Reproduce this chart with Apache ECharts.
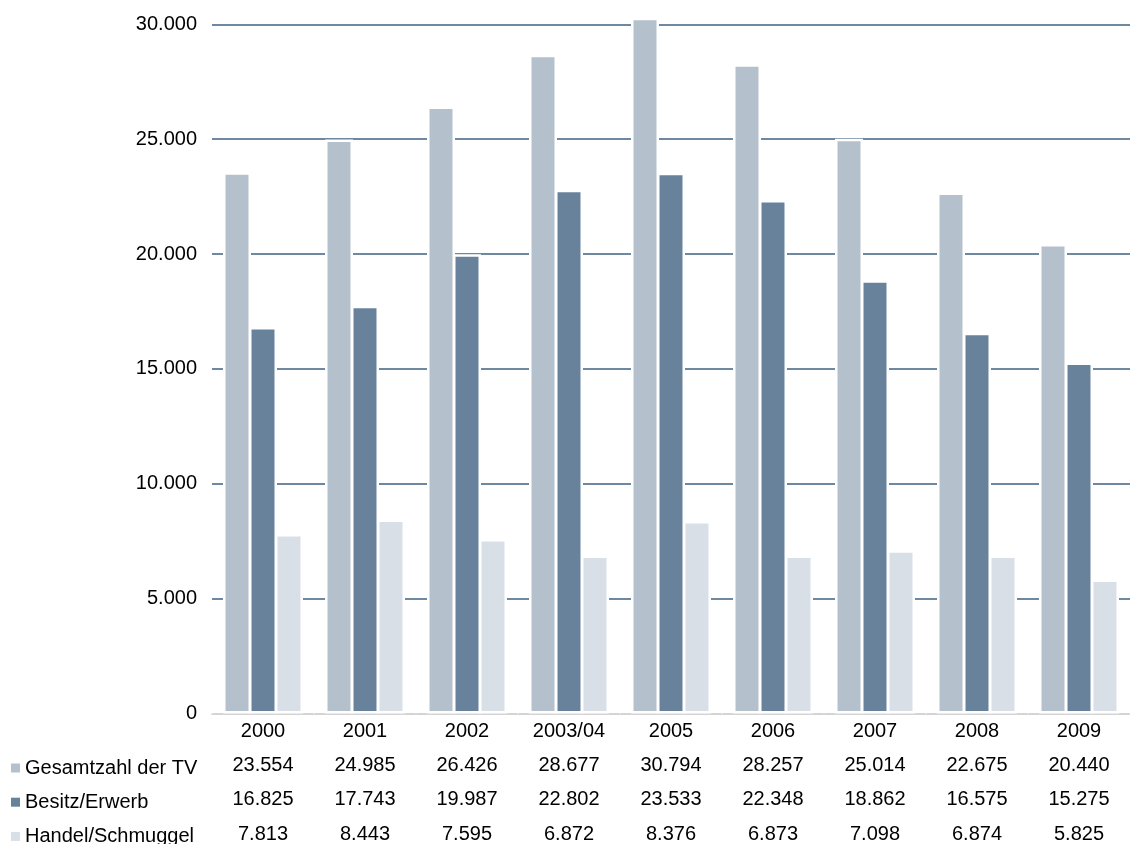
<!DOCTYPE html>
<html>
<head>
<meta charset="utf-8">
<script src="https://cdn.jsdelivr.net/npm/echarts@6/dist/echarts.min.js"></script>
<style>
html,body{margin:0;padding:0;background:#fff;}
#chart{width:1130px;height:844px;}
</style>
</head>
<body>
<div id="chart"></div>
<script>
const years = ['2000', '2001', '2002', '2003/04', '2005', '2006', '2007', '2008', '2009'];
const seriesNames = ['Gesamtzahl der TV', 'Besitz/Erwerb', 'Handel/Schmuggel'];
const gesamt = [23554, 24985, 26426, 28677, 30794, 28257, 25014, 22675, 20440];
const besitz = [16825, 17743, 19987, 22802, 23533, 22348, 18862, 16575, 15275];
const handel = [7813, 8443, 7595, 6872, 8376, 6873, 7098, 6874, 5825];
const yTickStep = 5000;
const yTickMax = 30000;

const colors = ['#b4c0cc', '#68829c', '#d9dfe6'];
const gridColor = '#6f88a1';
const font = "'Liberation Sans', Arial, sans-serif";
const fs = 20;

function fmt(n) {
  return String(n).replace(/\B(?=(\d{3})+(?!\d))/g, '.');
}

const rows = [gesamt, besitz, handel];
const rowPitch = 34.2;

const chart = echarts.init(document.getElementById('chart'), null, {renderer: 'canvas'});

const xAxes = [{
  type: 'category',
  data: years,
  position: 'bottom',
  axisLine: {show: true, lineStyle: {color: '#d4d4d4', width: 2}},
  axisTick: {show: true, inside: true, length: 2, lineStyle: {color: '#ffffff', width: 1.5}},
  axisLabel: {interval: 0, color: '#000', fontFamily: font, fontSize: fs, lineHeight: 20, margin: 8}
}].concat(rows.map((row, i) => ({
  type: 'category',
  data: years,
  position: 'bottom',
  offset: rowPitch * (i + 1),
  axisLine: {show: false},
  axisTick: {show: false},
  axisLabel: {
    interval: 0, color: '#000', fontFamily: font, fontSize: fs, lineHeight: 20, margin: 8,
    formatter: (v, idx) => fmt(row[idx])
  }
})));

const legends = seriesNames.map((n, i) => ({
  orient: 'vertical',
  left: 11,
  top: 758 + rowPitch * i,
  padding: 0,
  itemWidth: 9,
  itemHeight: 9,
  icon: 'rect',
  selectedMode: false,
  data: [n],
  itemStyle: {borderWidth: 0},
  textStyle: {color: '#000', fontFamily: font, fontSize: fs, lineHeight: 20}
}));

const tr = 'rgba(0,0,0,0)';
const option = {
  backgroundColor: '#ffffff',
  animation: false,
  grid: {left: 212, top: 19, width: 926, height: 695, containLabel: false},
  legend: legends,
  xAxis: xAxes,
  yAxis: {
    type: 'value',
    min: 0,
    max: 30230,
    interval: yTickStep,
    axisLine: {show: false},
    axisTick: {show: false},
    splitLine: {show: true, lineStyle: {color: [tr, gridColor, gridColor, gridColor, gridColor, gridColor, gridColor, tr], width: 2}},
    axisLabel: {
      color: '#000', fontFamily: font, fontSize: fs, margin: 15,
      formatter: v => (v % yTickStep === 0 && v <= yTickMax) ? fmt(v) : ''
    }
  },
  series: [gesamt, besitz, handel].map((d, i) => ({
    name: seriesNames[i],
    type: 'bar',
    data: d,
    barWidth: 28,
    barGap: '-7.143%',
    clip: true,
    itemStyle: {color: colors[i], borderColor: '#ffffff', borderWidth: 2.5},
    emphasis: {disabled: true}
  }))
};
chart.setOption(option);
</script>
</body>
</html>
